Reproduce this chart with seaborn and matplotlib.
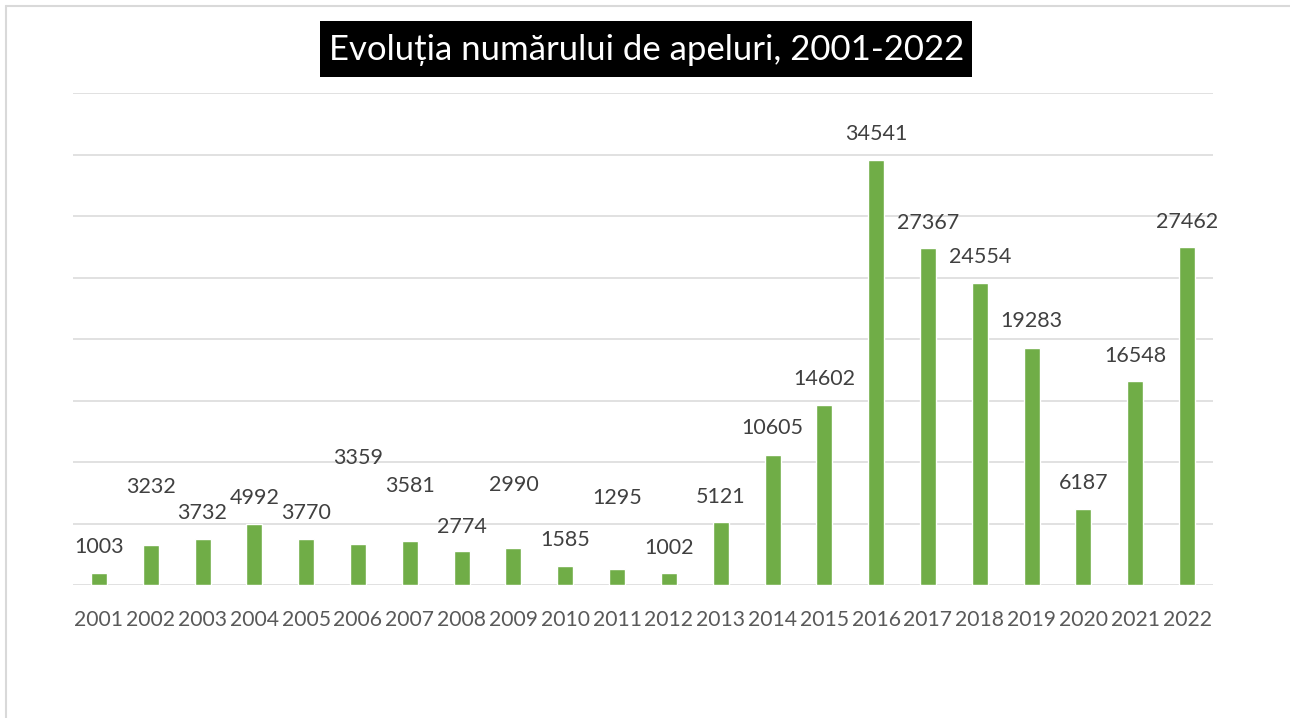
import numpy as np
import pandas as pd
import matplotlib
matplotlib.use("Agg")
import matplotlib.pyplot as plt
import seaborn as sns
from matplotlib.patches import Rectangle
from matplotlib.lines import Line2D

# Date
years = [str(y) for y in range(2001, 2023)]
apeluri = [1003, 3232, 3732, 4992, 3770, 3359, 3581, 2774, 2990, 1585, 1295,
           1002, 5121, 10605, 14602, 34541, 27367, 24554, 19283, 6187, 16548,
           27462]
# pozitia etichetelor (in unitati de date, ca in original)
label_y = [3090, 7970, 5850, 7070, 5850, 10330, 8050, 4720, 8130, 3660, 7070,
           3010, 7150, 12760, 16750, 36670, 29430, 26670, 21460, 8290, 18620,
           29510]
titlu = "Evoluția numărului de apeluri, 2001-2022"

df = pd.DataFrame({"an": years, "apeluri": apeluri})

sns.set_theme(style="white")
plt.rcParams["font.family"] = ["Lato", "DejaVu Sans"]

W, H = 1290, 718
fig = plt.figure(figsize=(W / 100, H / 100), dpi=100)
ax = fig.add_axes([73 / W, (H - 585) / H, 1140 / W, 492 / H])

sns.barplot(data=df, x="an", y="apeluri", color="#70AD47", width=0.31,
            saturation=1, ax=ax, zorder=3)

ax.set_ylim(0, 40000)
ax.set_xlim(-0.5, len(years) - 0.5)
ax.set_yticks(np.arange(0, 40001, 5000))
ax.yaxis.grid(True, color="#D9D9D9", linewidth=1.1, zorder=0)
ax.set_yticklabels([])
ax.tick_params(axis="y", length=0)
ax.tick_params(axis="x", length=0, pad=18, labelsize=15.2, labelcolor="#595959")
ax.set_xlabel("")
ax.set_ylabel("")
for s in ax.spines.values():
    s.set_visible(False)

# etichete de date
for i, (v, ly) in enumerate(zip(apeluri, label_y)):
    ax.text(i, ly, str(v), ha="center", va="center", fontsize=15.5,
            color="#404040", zorder=4)

# cadrul graficului
fig.add_artist(Line2D([6 / W, 1], [1 - 6 / H, 1 - 6 / H], color="#D9D9D9",
                      linewidth=1.5, transform=fig.transFigure))
fig.add_artist(Line2D([6 / W, 6 / W], [0, 1 - 6 / H], color="#D9D9D9",
                      linewidth=1.5, transform=fig.transFigure))

# titlu pe fundal negru
fig.add_artist(Rectangle((320 / W, 1 - 77 / H), 652 / W, 56 / H,
                         facecolor="black", edgecolor="none",
                         transform=fig.transFigure))
fig.text(647 / W, 1 - 50 / H, titlu, ha="center", va="center", fontsize=25,
         color="white")

fig.savefig("out.png", dpi=100)
